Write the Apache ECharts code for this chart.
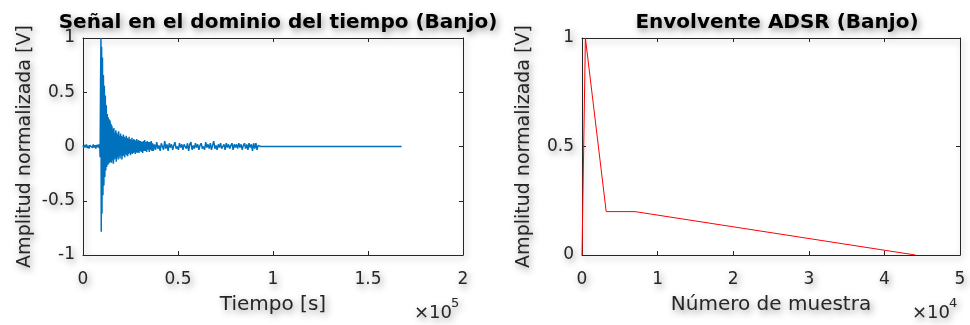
<!DOCTYPE html>
<html>
<head>
    <meta charset="utf-8">
    <title>Banjo</title>
    <script src="https://cdn.jsdelivr.net/npm/echarts@6/dist/echarts.min.js"></script>
    <style>
        html, body { margin: 0; padding: 0; background: #fff; }
    </style>
</head>
<body>
<div id="grafica" style="width: 970px; height: 325px;"></div>
<script>
    // señal del banjo, tramos: [muestra, amplitud]
    var senalPreAtaque = [
        [0, 0.01], [450, -0.012], [900, 0.015], [1350, -0.008], [1800, 0.02], [2250, -0.015],
        [2700, 0.008], [3150, -0.02], [3600, 0.012], [4050, -0.005], [4500, 0.02], [4950, -0.012],
        [5400, 0.018], [5850, -0.01], [6300, 0.012], [6750, -0.02], [7200, 0.015], [7650, -0.008],
        [8100, 0.02], [8550, -0.015]
    ];
    var senalAtaque = [
        [8800, 0.02], [9000, -0.1], [9250, 0.6], [9450, 1.0], [9600, -0.785], [9800, 0.92],
        [10000, -0.62], [10250, 0.82], [10500, -0.45], [10750, 0.66], [11000, -0.36], [11250, 0.56],
        [11500, -0.28], [11750, 0.47], [12000, -0.22], [12250, 0.38], [12500, -0.19], [12750, 0.3],
        [13000, -0.17], [13250, 0.27], [13500, -0.16], [13750, 0.25], [14000, -0.15], [14250, 0.24],
        [14500, -0.14], [14750, 0.21], [15000, -0.15]
    ];
    var senalDecaimiento = [
        [15250, 0.19], [15500, -0.13], [15750, 0.16], [16000, -0.16], [16250, 0.17], [16500, -0.12],
        [16750, 0.13], [17000, -0.11], [17250, 0.15], [17500, -0.14], [17750, 0.13], [18000, -0.1],
        [18250, 0.11], [18500, -0.12], [18750, 0.14], [19000, -0.09], [19250, 0.1], [19500, -0.11],
        [19750, 0.12], [20000, -0.08], [20250, 0.1], [20500, -0.12], [20750, 0.09], [21000, -0.09],
        [21250, 0.11], [21500, -0.08], [21750, 0.09], [22000, -0.1], [22250, 0.08], [22500, -0.07],
        [22750, 0.1], [23000, -0.08], [23250, 0.08], [23500, -0.09], [23750, 0.07], [24000, -0.07],
        [24250, 0.09], [24500, -0.06], [24750, 0.07], [25000, -0.08], [25250, 0.06], [25500, -0.06],
        [25750, 0.08], [26000, -0.07], [26250, 0.06], [26500, -0.06], [26750, 0.07], [27000, -0.05],
        [27250, 0.06], [27500, -0.07], [27750, 0.05], [28000, -0.05], [28250, 0.07], [28500, -0.06],
        [28750, 0.05], [29000, -0.05], [29250, 0.06], [29500, -0.06], [29750, 0.05], [30000, -0.04],
        [30350, 0.05], [30700, -0.05], [31050, 0.04], [31400, -0.06], [31750, 0.05], [32100, -0.04],
        [32450, 0.06], [32800, -0.04], [33150, 0.04], [33500, -0.05], [33850, 0.05], [34200, -0.03],
        [34550, 0.04], [34900, -0.05], [35250, 0.04], [35600, -0.03], [35950, 0.05], [36300, -0.04],
        [36650, 0.03], [37000, -0.04]
    ];
    var senalCola = [
        [37600, 0.02], [38200, -0.03], [38800, 0.04], [39400, -0.02], [40000, 0.01], [40600, -0.04],
        [41200, 0.03], [41800, 0.0], [42400, -0.03], [43000, 0.05], [43600, -0.02], [44200, 0.02],
        [44800, -0.04], [45400, 0.03], [46000, -0.01], [46600, 0.02], [47200, -0.03], [47800, 0.01],
        [48400, 0.04], [49000, -0.02], [49600, 0.0], [50200, -0.03], [50800, 0.03], [51400, -0.01],
        [52000, 0.02], [52600, -0.03], [53200, 0.02], [53800, 0.0], [54400, -0.02], [55000, 0.03],
        [55600, -0.04], [56200, 0.02], [56800, 0.04], [57400, -0.03], [58000, 0.01], [58600, -0.02],
        [59200, 0.03], [59800, -0.01], [60400, 0.02], [61000, -0.03], [61600, 0.01], [62200, 0.03],
        [62800, -0.02], [63400, 0.0], [64000, -0.03], [64600, 0.04], [65200, -0.01], [65800, 0.02],
        [66400, -0.02], [67000, 0.03], [67600, -0.03], [68200, 0.01], [68800, 0.05], [69400, -0.02],
        [70000, 0.01], [70600, -0.03], [71200, 0.02], [71800, -0.01], [72400, 0.03], [73000, -0.02],
        [73600, 0.0], [74200, 0.02], [74800, -0.03], [75400, 0.03], [76000, -0.01], [76600, 0.02],
        [77200, -0.02], [77800, 0.01], [78400, 0.03], [79000, -0.03], [79600, 0.02], [80200, -0.01],
        [80800, 0.02], [81400, -0.02], [82000, 0.03], [82600, -0.01], [83200, 0.02], [83800, -0.03],
        [84400, 0.01], [85000, 0.03], [85600, -0.02], [86200, 0.02], [86800, -0.03], [87400, 0.03],
        [88000, -0.01], [88600, 0.02], [89200, -0.04], [89800, 0.03], [90400, -0.02], [91000, 0.03],
        [91600, -0.03], [92200, 0.01], [92800, 0.0]
    ];
    var senalSilencio = [[93400, 0], [167700, 0]];

    // envolvente ADSR: [muestra, amplitud]
    var envolventeADSR = [[0, 0], [450, 1], [3200, 0.2], [7000, 0.2], [44100, 0]];

    // ejes
    var tiempoMax = 200000, tiempoPaso = 50000, tiempoEscala = 1e5;
    var muestraMax = 50000, muestraPaso = 10000, muestraEscala = 1e4;

    var senal = senalPreAtaque.concat(senalAtaque, senalDecaimiento, senalCola, senalSilencio);

    var sombraTexto = {
        textShadowColor: 'rgba(0,0,0,0.45)',
        textShadowBlur: 7,
        textShadowOffsetX: 2,
        textShadowOffsetY: 3
    };
    var fuente = 'DejaVu Sans';
    var colorEje = '#262626';

    function estiloTexto(size, weight, color) {
        return Object.assign({
            fontFamily: fuente,
            fontSize: size,
            fontWeight: weight || 'normal',
            color: color || colorEje
        }, sombraTexto);
    }

    function textoSuelto(x, y, texto, size) {
        return {
            type: 'text', left: x, top: y,
            style: Object.assign({text: texto, font: size + 'px "DejaVu Sans"', fill: colorEje}, sombraTexto)
        };
    }

    var lineaEje = {
        show: true,
        onZero: false,
        lineStyle: {
            color: colorEje, width: 1,
            shadowColor: 'rgba(0,0,0,0.35)', shadowBlur: 6, shadowOffsetX: 2, shadowOffsetY: 3
        }
    };
    var marcas = {show: true, inside: true, length: 4, lineStyle: {color: colorEje, width: 1}};

    function ejeX(grid, pos, max, paso, escala, nombre) {
        var eje = {
            type: 'value', gridIndex: grid, position: pos, min: 0, max: max, interval: paso,
            axisLine: lineaEje, axisTick: marcas, splitLine: {show: false},
            axisLabel: {show: false}
        };
        if (nombre) {
            eje.axisLabel = Object.assign({
                show: true, margin: 16,
                formatter: function (v) { return String(v / escala); }
            }, estiloTexto(17));
            eje.name = nombre;
            eje.nameLocation = 'middle';
            eje.nameGap = 40;
            eje.nameTextStyle = estiloTexto(20);
        }
        return eje;
    }

    function ejeY(grid, pos, min, max, nombre) {
        var eje = {
            type: 'value', gridIndex: grid, position: pos, min: min, max: max, interval: 0.5,
            axisLine: lineaEje, axisTick: marcas, splitLine: {show: false},
            axisLabel: {show: false}
        };
        if (nombre) {
            eje.axisLabel = Object.assign({show: true, margin: 8}, estiloTexto(17));
            eje.name = nombre;
            eje.nameLocation = 'middle';
            eje.nameGap = 48;
            eje.nameTextStyle = estiloTexto(19);
        }
        return eje;
    }

    var grafica = echarts.init(document.getElementById('grafica'));
    var opcion = {
        backgroundColor: '#fff',
        animation: false,
        title: [
            {text: 'Señal en el dominio del tiempo (Banjo)', left: 273, top: 8, textAlign: 'center',
                textStyle: estiloTexto(20, 'bold', '#000')},
            {text: 'Envolvente ADSR (Banjo)', left: 772, top: 8, textAlign: 'center',
                textStyle: estiloTexto(20, 'bold', '#000')}
        ],
        grid: [
            {left: 83, right: 507, top: 38, bottom: 70},
            {left: 582, right: 10, top: 38, bottom: 70}
        ],
        xAxis: [
            ejeX(0, 'bottom', tiempoMax, tiempoPaso, tiempoEscala, 'Tiempo [s]'),
            ejeX(0, 'top', tiempoMax, tiempoPaso, tiempoEscala),
            ejeX(1, 'bottom', muestraMax, muestraPaso, muestraEscala, 'Número de muestra'),
            ejeX(1, 'top', muestraMax, muestraPaso, muestraEscala)
        ],
        yAxis: [
            ejeY(0, 'left', -1, 1, 'Amplitud normalizada [V]'),
            ejeY(0, 'right', -1, 1),
            ejeY(1, 'left', 0, 1, 'Amplitud normalizada [V]'),
            ejeY(1, 'right', 0, 1)
        ],
        graphic: [
            textoSuelto(414, 304, '×10', 18),
            textoSuelto(451, 297, '5', 13),
            textoSuelto(912, 304, '×10', 18),
            textoSuelto(949, 297, '4', 13)
        ],
        series: [
            {
                name: 'Señal',
                type: 'line',
                xAxisIndex: 0,
                yAxisIndex: 0,
                data: senal,
                showSymbol: false,
                sampling: null,
                lineStyle: {color: '#0072BD', width: 1.5},
                itemStyle: {color: '#0072BD'}
            },
            {
                name: 'ADSR',
                type: 'line',
                xAxisIndex: 2,
                yAxisIndex: 2,
                data: envolventeADSR,
                showSymbol: false,
                lineStyle: {color: '#FF0000', width: 1},
                itemStyle: {color: '#FF0000'}
            }
        ]
    };
    grafica.setOption(opcion);
</script>
</body>
</html>
